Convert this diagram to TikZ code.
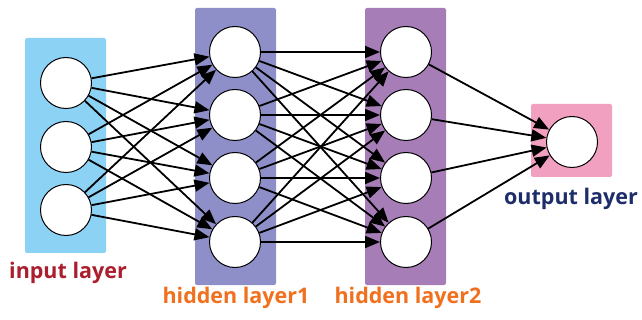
\documentclass[tikz,border=0pt]{standalone}
\usepackage{fontspec}
\setmainfont{Open Sans}
\usepackage{tikz}
\usetikzlibrary{arrows.meta, positioning}
\definecolor{inblue}{RGB}{140,210,245}
\definecolor{hidblue}{RGB}{142,143,200}
\definecolor{hidpurple}{RGB}{167,125,184}
\definecolor{outpink}{RGB}{242,160,192}
\definecolor{txtred}{RGB}{170,30,45}
\definecolor{txtorange}{RGB}{240,112,30}
\definecolor{txtnavy}{RGB}{30,45,105}
\tikzset{
  layerbox/.style={rectangle, minimum width=81pt, rounded corners=2pt, draw=none},
  neuron/.style={circle, minimum size=51pt, inner sep=0pt, draw=black, fill=white, line width=1pt},
  layerlabel/.style={font=\fontsize{21.5}{24}\selectfont\bfseries},
  arrow/.style={-{Triangle[length=15pt,width=12pt]}, line width=1.8pt},
}

\begin{document}
\begin{tikzpicture}[x=1pt, y=-1pt]
\useasboundingbox (0,0) rectangle (642,320);
% layer boxes
\node (inbox)  [layerbox, fill=inblue, minimum height=215pt] at (65.5,145.5) {};
\node (h1box)  [layerbox, fill=hidblue, minimum height=277pt] at (235.5,146.5) {};
\node (h2box)  [layerbox, fill=hidpurple, minimum height=277pt] at (405.5,146.5) {};
\node (outbox) [layerbox, fill=outpink, minimum height=73pt] at (571.5,140.5) {};
% neurons
\foreach \i/\y in {1/83, 2/147, 3/210}
  \node (i\i) [neuron] at (66,\y) {};
\foreach \i/\y in {1/52, 2/115, 3/178, 4/242} {
  \node (a\i) [neuron] at (235,\y) {};
  \node (b\i) [neuron] at (406,\y) {};
}
\node (o1) [neuron] at (572,142) {};
% connections
\foreach \i in {1,2,3}
  \foreach \j in {1,2,3,4}
    \draw[arrow] (i\i) -- (a\j);
\foreach \i in {1,2,3,4}
  \foreach \j in {1,2,3,4}
    \draw[arrow] (a\i) -- (b\j);
\foreach \i in {1,2,3,4}
  \draw[arrow] (b\i) -- (o1);
% labels
\node (inlbl)  [layerlabel, text=txtred] at (68,273) {input layer};
\node (h1lbl)  [layerlabel, text=txtorange] at (236,298) {hidden layer1};
\node (h2lbl)  [layerlabel, text=txtorange] at (408,298) {hidden layer2};
\node (outlbl) [layerlabel, text=txtnavy] at (571,199) {output layer};
\end{tikzpicture}
\end{document}
